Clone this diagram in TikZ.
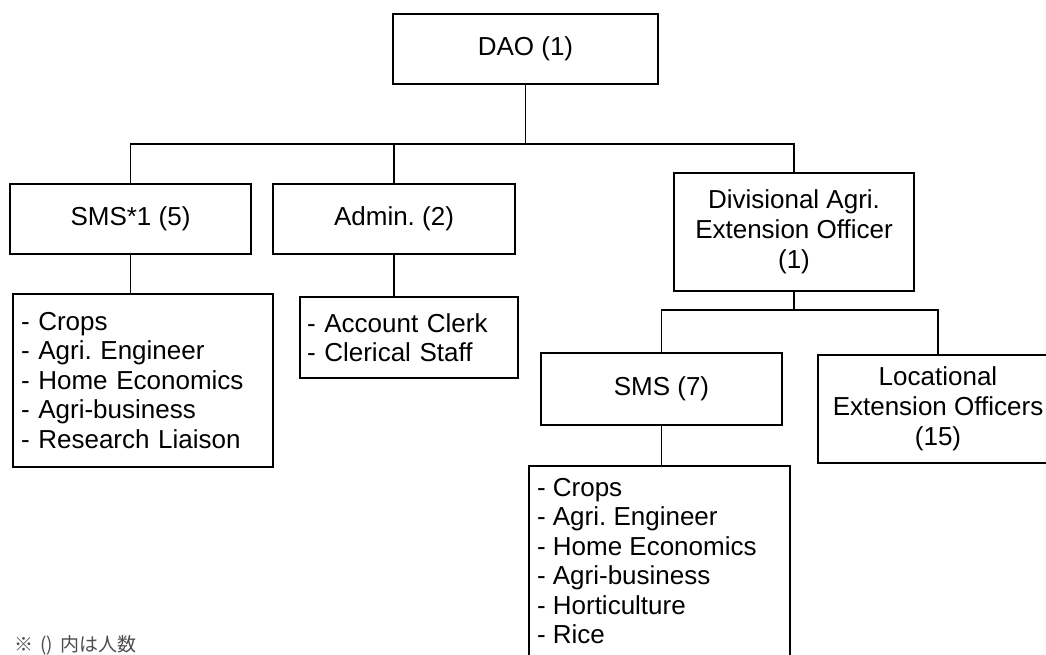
\documentclass[tikz,border=0pt]{standalone}
\usepackage{fontspec}
\setmainfont{Liberation Sans}
\newfontfamily\jpfont{Noto Sans CJK JP}
\frenchspacing
\begin{document}
\begin{tikzpicture}[x=1pt,y=-1pt,
  every node/.style={font=\fontsize{26}{30}\selectfont},
  unit/.style={draw, line width=1.7pt, inner sep=0pt, align=center},
  roster/.style={draw, line width=1.7pt, inner xsep=8pt, inner ysep=0pt, align=left,
    font=\fontsize{26}{29.5}\selectfont},
  link/.style={line width=1.7pt}]
\useasboundingbox (0,0) rectangle (1046,655);
\clip (0,0) rectangle (1046,655);

% top level
\node[unit, minimum width=265pt, minimum height=70pt] (dao) at (525.5,49) {DAO (1)};

% second level
\node[unit, minimum width=241pt, minimum height=70pt] (sms1) at (130.5,219) {SMS*1 (5)};
\node[unit, minimum width=242pt, minimum height=70pt] (admin) at (394,219) {Admin. (2)};
\node[unit, minimum width=240pt, minimum height=118pt] (div) at (794,232)
  {Divisional Agri.\\Extension Officer\\(1)};

% staff lists
\node[roster, text width=244pt, minimum height=173pt] (sms1list) at (143,380.5)
  {- Crops\\- Agri. Engineer\\- Home Economics\\- Agri-business\\- Research Liaison};
\node[roster, text width=204pt, minimum height=81pt, inner xsep=7pt] (adminlist) at (409,337.5)
  {- Account Clerk\\- Clerical Staff};

% divisional level
\node[unit, minimum width=241pt, minimum height=72pt] (sms7) at (661.5,389) {SMS (7)};
\node[unit, minimum width=240pt, minimum height=108pt] (loc) at (938,409)
  {Locational\\Extension Officers\\(15)};
\node[draw, line width=1.7pt, inner xsep=8pt, inner ysep=12pt, anchor=north] (sms7list) at (659.5,465)
  {\fontsize{26}{29.5}\selectfont\parbox[t][230pt][t]{245pt}{\raggedright
   - Crops\\- Agri. Engineer\\- Home Economics\\- Agri-business\\- Horticulture\\- Rice}};

% connectors
\coordinate (bus) at (0,144);
\coordinate (subbus) at (0,310);
\draw[link] (dao.south) -- (dao.south |- bus);
\draw[link] (sms1.north) -- (sms1.north |- bus) -- (div.north |- bus) -- (div.north);
\draw[link] (admin.north) -- (admin.north |- bus);
\draw[link] (sms1.south) -- (sms1.south |- sms1list.north);
\draw[link] (admin.south) -- (admin.south |- adminlist.north);
\draw[link] (div.south) -- (div.south |- subbus);
\draw[link] (sms7.north) -- (sms7.north |- subbus) -- (loc.north |- subbus) -- (loc.north);
\draw[link] (sms7.south) -- (sms7.south |- sms7list.north);

% footnote
\node[anchor=base west, inner sep=0pt, text=black!70,
  font=\jpfont\fontsize{19}{19}\selectfont] (note) at (14,651)
  {※\hspace{7pt}()\hspace{7pt}内は人数};
\end{tikzpicture}
\end{document}
